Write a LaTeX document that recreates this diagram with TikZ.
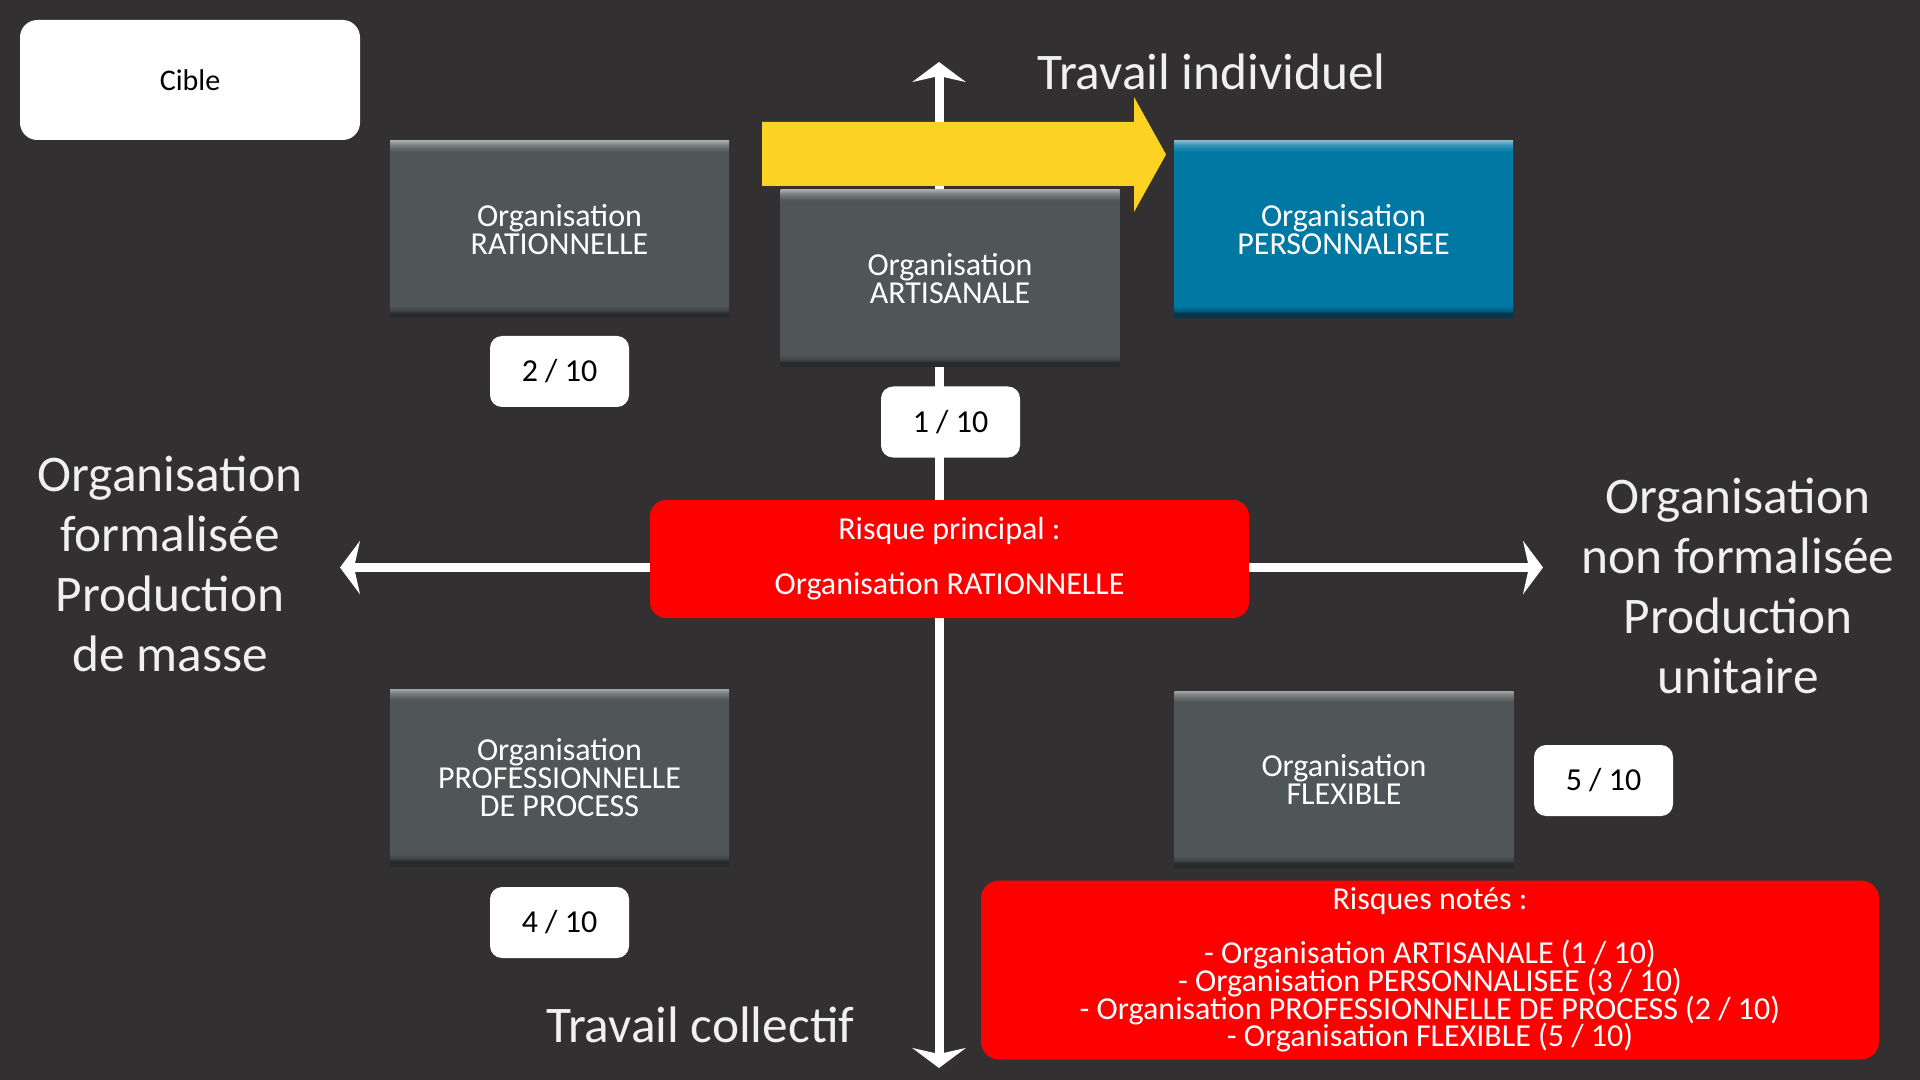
\documentclass[tikz,border=0pt]{standalone}
\usepackage{fontspec}
\setmainfont{Carlito}
\usetikzlibrary{arrows.meta}

\definecolor{slidebg}{RGB}{50,48,49}
\definecolor{orggray}{RGB}{80,85,88}
\definecolor{orgmid}{RGB}{62,66,69}
\definecolor{orgdark}{RGB}{38,42,44}
\definecolor{orglight}{RGB}{125,129,131}
\definecolor{orgtop}{RGB}{165,168,170}
\definecolor{persblue}{RGB}{0,120,164}
\definecolor{persmid}{RGB}{0,90,124}
\definecolor{persdark}{RGB}{0,55,78}
\definecolor{perslight}{RGB}{60,150,185}
\definecolor{perstop}{RGB}{120,182,206}
\definecolor{arrowyellow}{RGB}{253,211,35}
\definecolor{riskred}{RGB}{255,0,0}

\pgfdeclareverticalshading{orgshade}{100bp}{color(0bp)=(orgdark); color(26.4bp)=(orgdark); color(27bp)=(orgmid); color(28.5bp)=(orggray); color(72bp)=(orggray); color(74bp)=(orglight); color(75bp)=(orgtop); color(100bp)=(orgtop)}
\pgfdeclareverticalshading{persshade}{100bp}{color(0bp)=(persdark); color(26.4bp)=(persdark); color(27bp)=(persmid); color(28.5bp)=(persblue); color(72bp)=(persblue); color(74bp)=(perslight); color(75bp)=(perstop); color(100bp)=(perstop)}

\newcommand\orgfont{\fontsize{24pt}{21pt}\selectfont\lineskiplimit-50pt\relax}
\newcommand\riskfont{\fontsize{24pt}{20.8pt}\selectfont\lineskiplimit-50pt\relax}

\tikzset{
  orgbox/.style={shading=orgshade, minimum width=254.25pt, minimum height=132.75pt, inner sep=0pt, align=center, text=white, font=\orgfont},
  persbox/.style={orgbox, shading=persshade},
  scorebox/.style={fill=white, rounded corners=9pt, minimum width=104.25pt, minimum height=53.25pt, inner sep=0pt, font=\fontsize{24pt}{28pt}\selectfont},
  riskbox/.style={fill=riskred, rounded corners=12pt, inner sep=0pt, align=center, text=white, font=\riskfont},
  axisline/.style={draw=white, line width=6.75pt, {Stealth[length=15pt,width=40pt,inset=4.5pt]}-{Stealth[length=15pt,width=40pt,inset=4.5pt]}},
  axislabel/.style={text=white!94!black, inner sep=0pt, align=center, font=\fontsize{38.5pt}{45pt}\selectfont},
}

\begin{document}
\begin{tikzpicture}[x=0.75pt,y=0.75pt,yscale=-1,xscale=1]

\fill[slidebg] (0,0) rectangle (1920,1080);

% axes
\coordinate (vtop) at (939,62);
\coordinate (vbottom) at (939,1068);
\coordinate (hleft) at (340,567.5);
\coordinate (hright) at (1543,567.5);
\draw[axisline] (vbottom) -- (vtop);
\draw[axisline] (hleft) -- (hright);

% yellow arrow
\fill[arrowyellow] (762,122) -- (1134,122) -- (1134,97) -- (1166,154.5) -- (1134,212) -- (1134,186) -- (762,186) -- cycle;

\node[scorebox, minimum width=255pt, minimum height=90pt, rounded corners=13pt, font=\fontsize{22.5pt}{27pt}\selectfont] (cible) at (190,80) {Cible};

\node[orgbox] (rat) at (559.5,229.5) {Organisation\\RATIONNELLE};
\node[orgbox] (art) at (950,278.5) {Organisation\\ARTISANALE};
\node[persbox] (pers) at (1343.5,229.5) {Organisation\\PERSONNALISEE};
\node[orgbox] (pro) at (559.5,777.5) {Organisation\\PROFESSIONNELLE\\DE PROCESS};
\node[orgbox] (flex) at (1344,779.5) {Organisation\\FLEXIBLE};

\node[scorebox] (ratscore) at (559.5,371.5) {2 / 10};
\node[scorebox] (artscore) at (950.5,422) {1 / 10};
\node[scorebox] (proscore) at (559.5,922.5) {4 / 10};
\node[scorebox] (flexscore) at (1603.5,780.5) {5 / 10};

\node[riskbox, minimum width=449.25pt, minimum height=88.5pt] (mainrisk) at (949.5,559) {Risque principal :\\[20.5pt]Organisation RATIONNELLE};
\node[riskbox, rounded corners=13.5pt, minimum width=673.5pt, minimum height=134.25pt] (notedrisks) at (1430,970) {Risques notés :\\[19.6pt]- Organisation ARTISANALE (1 / 10)\\- Organisation PERSONNALISEE (3 / 10)\\- Organisation PROFESSIONNELLE DE PROCESS (2 / 10)\\- Organisation FLEXIBLE (5 / 10)};

% axis labels
\node[axislabel, anchor=base west] (indiv) at (1037,90) {Travail individuel};
\node[axislabel, anchor=base west] (collectif) at (546,1042) {Travail collectif};
\node[axislabel] (formal) at (170,564) {Organisation\\formalisée\\Production\\de masse};
\node[axislabel] (nonformal) at (1738,586) {Organisation\\non formalisée\\Production\\unitaire};

\end{tikzpicture}
\end{document}
